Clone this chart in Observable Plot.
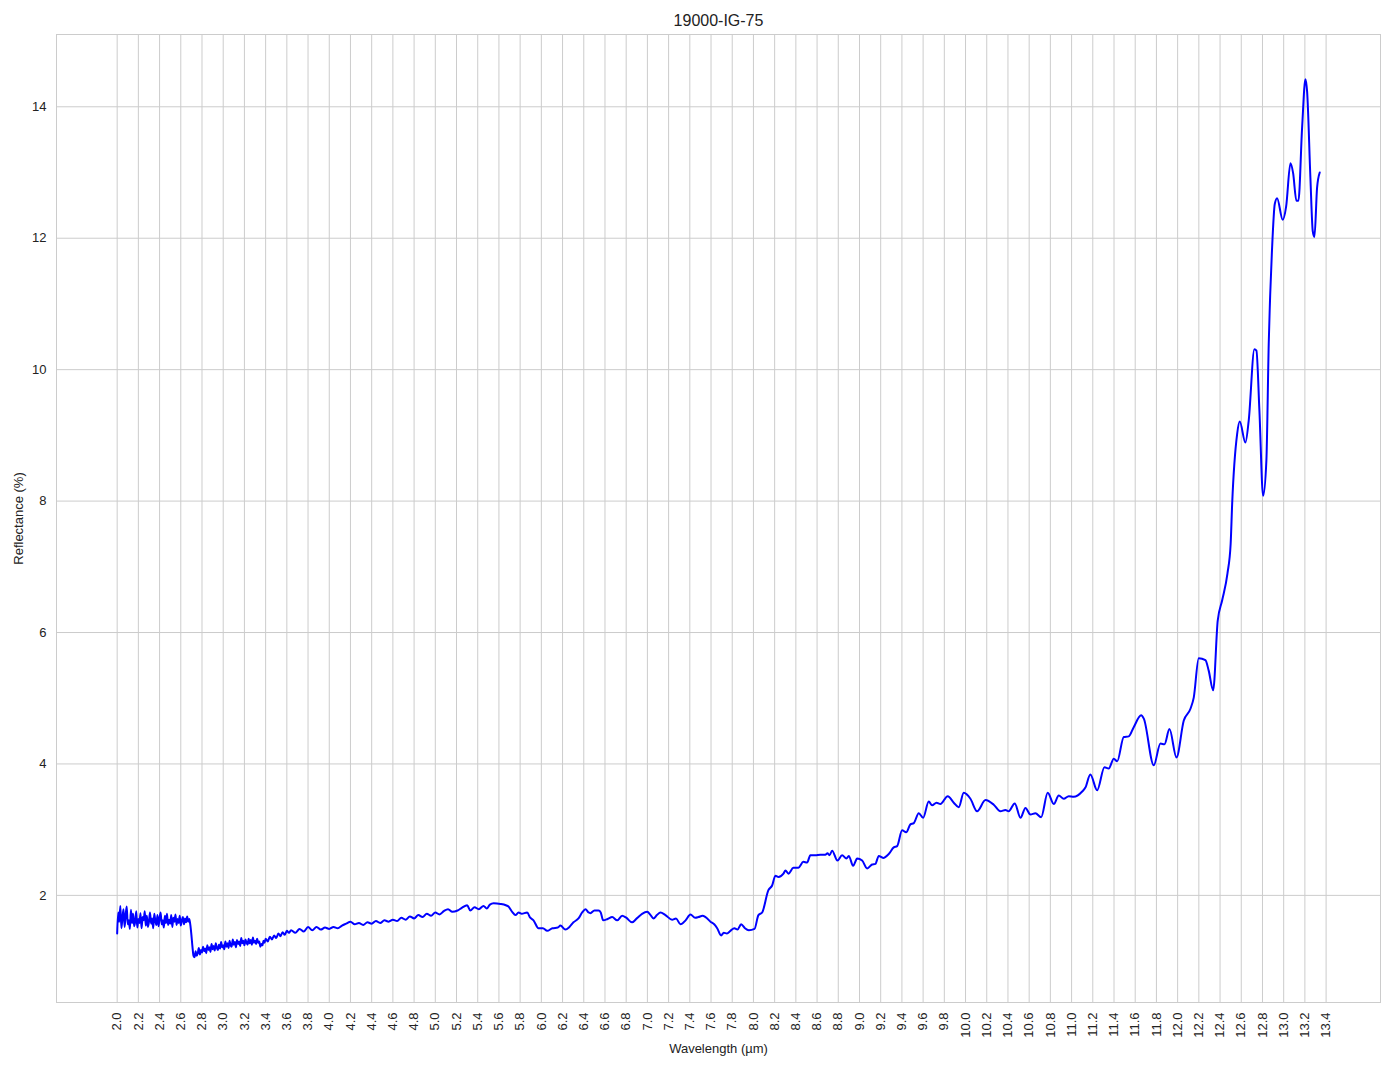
<!DOCTYPE html>
<html><head><meta charset="utf-8">
<script src="https://cdn.jsdelivr.net/npm/d3@7"></script>
<script src="https://cdn.jsdelivr.net/npm/@observablehq/plot@0.6"></script>
<style>html,body{margin:0;padding:0;background:#fff;overflow:hidden} svg{display:block}</style>
</head><body><div id="chart"></div>
<script>
const chartTitle = "19000-IG-75";
const xLabel = "Wavelength (µm)";
const yLabel = "Reflectance (%)";
const xTicks = [2.0,2.2,2.4,2.6,2.8,3.0,3.2,3.4,3.6,3.8,4.0,4.2,4.4,4.6,4.8,5.0,5.2,5.4,5.6,5.8,6.0,6.2,6.4,6.6,6.8,7.0,7.2,7.4,7.6,7.8,8.0,8.2,8.4,8.6,8.8,9.0,9.2,9.4,9.6,9.8,10.0,10.2,10.4,10.6,10.8,11.0,11.2,11.4,11.6,11.8,12.0,12.2,12.4,12.6,12.8,13.0,13.2,13.4];
const yTicks = [2,4,6,8,10,12,14];

// [wavelength µm, reflectance %]
const noisyStart = [
[2.00,1.42],[2.01,1.74],[2.02,1.60],[2.03,1.84],[2.04,1.50],[2.05,1.66],[2.06,1.79],[2.07,1.52],[2.08,1.70],[2.09,1.83],
[2.10,1.56],[2.11,1.62],[2.12,1.49],[2.13,1.78],[2.14,1.58],[2.15,1.72],[2.16,1.53],[2.17,1.60],[2.18,1.76],[2.19,1.51],
[2.20,1.64],[2.21,1.58],[2.22,1.73],[2.23,1.50],[2.24,1.67],[2.25,1.62],[2.26,1.76],[2.27,1.54],[2.28,1.69],[2.29,1.52],
[2.30,1.60],[2.31,1.74],[2.32,1.57],[2.33,1.65],[2.34,1.50],[2.35,1.72],[2.36,1.61],[2.37,1.55],[2.38,1.70],[2.39,1.53],
[2.40,1.66],[2.41,1.74],[2.42,1.56],[2.43,1.62],[2.44,1.51],[2.45,1.69],[2.46,1.58],[2.47,1.72],[2.48,1.55],[2.49,1.63],
[2.50,1.57],[2.51,1.70],[2.52,1.52],[2.53,1.66],[2.54,1.60],[2.55,1.71],[2.56,1.55],[2.57,1.64],[2.58,1.58],[2.59,1.69],
[2.60,1.54],[2.61,1.62],[2.62,1.67],[2.63,1.56],[2.64,1.65],[2.65,1.59],[2.66,1.68],[2.67,1.60],[2.68,1.64],[2.69,1.55],
[2.70,1.40],[2.71,1.22],[2.72,1.08],[2.73,1.06]
];
const noisyRise = [
[2.74,1.15],[2.75,1.08],[2.76,1.12],[2.77,1.20],[2.78,1.10],[2.79,1.17],[2.80,1.13],[2.81,1.22],[2.82,1.15],[2.83,1.19],
[2.84,1.12],[2.85,1.24],[2.86,1.17],[2.87,1.21],[2.88,1.14],[2.89,1.26],[2.90,1.18],[2.91,1.23],[2.92,1.16],[2.93,1.27],
[2.94,1.20],[2.95,1.17],[2.96,1.25],[2.97,1.19],[2.98,1.29],[2.99,1.21],[3.00,1.24],[3.01,1.18],[3.02,1.30],[3.03,1.22],
[3.04,1.27],[3.05,1.20],[3.06,1.31],[3.07,1.24],[3.08,1.22],[3.09,1.33],[3.10,1.25],[3.11,1.29],[3.12,1.21],[3.13,1.32],
[3.14,1.26],[3.15,1.30],[3.16,1.23],[3.17,1.35],[3.18,1.27],[3.19,1.31],[3.20,1.24],[3.21,1.33],[3.22,1.28],[3.23,1.25],
[3.24,1.34],[3.25,1.27],[3.26,1.32],[3.27,1.25],[3.28,1.36],[3.29,1.28],[3.30,1.31],[3.31,1.26],[3.32,1.34],[3.33,1.28],
[3.34,1.30],[3.35,1.22],[3.36,1.26],[3.37,1.24],[3.38,1.31],[3.39,1.28],[3.40,1.34],[3.42,1.30],[3.44,1.37],[3.46,1.33],
[3.48,1.39],[3.50,1.35],[3.52,1.42],[3.54,1.38],[3.56,1.44],[3.58,1.40],[3.60,1.46],[3.62,1.43],[3.64,1.47],[3.68,1.43],
[3.72,1.49],[3.76,1.45],[3.80,1.52],[3.84,1.47],[3.88,1.52],[3.92,1.48],[3.96,1.51],[4.00,1.49],[4.04,1.52],[4.08,1.50],
[4.12,1.54],[4.16,1.57],[4.20,1.60],[4.24,1.56],[4.28,1.58],[4.32,1.55],[4.36,1.59],[4.40,1.57],[4.44,1.61],[4.48,1.58],
[4.52,1.62],[4.56,1.60],[4.60,1.63],[4.64,1.61],[4.68,1.66],[4.72,1.63],[4.76,1.68],[4.80,1.65],[4.84,1.70],[4.88,1.67],
[4.92,1.72],[4.96,1.69],[5.00,1.74],[5.04,1.71],[5.08,1.76],[5.12,1.79],[5.16,1.75]
];
const midBand = [
[5.21,1.77],[5.25,1.81],[5.30,1.85],[5.33,1.77],[5.37,1.82],[5.41,1.79],[5.455,1.84],[5.485,1.80],[5.515,1.86],[5.55,1.88],
[5.615,1.87],[5.665,1.85],[5.69,1.83],[5.725,1.75],[5.756,1.70],[5.785,1.74],[5.815,1.72],[5.866,1.74],[5.895,1.66],[5.926,1.62],
[5.973,1.50],[6.015,1.50],[6.055,1.46],[6.105,1.50],[6.155,1.51],[6.18,1.54],[6.227,1.48],[6.265,1.52],[6.303,1.59],[6.35,1.65],
[6.385,1.74],[6.416,1.79],[6.445,1.74],[6.463,1.73],[6.50,1.77],[6.539,1.77],[6.56,1.74],[6.583,1.62],[6.625,1.64],[6.668,1.67],
[6.715,1.62],[6.762,1.69],[6.80,1.66],[6.856,1.59],[6.90,1.65],[6.95,1.72],[6.998,1.75],[7.03,1.70],[7.057,1.65],[7.09,1.70],
[7.123,1.74],[7.17,1.70],[7.233,1.63],[7.27,1.65],[7.312,1.56],[7.36,1.62],[7.406,1.71],[7.45,1.66],[7.482,1.67],[7.52,1.69],
[7.548,1.67],[7.595,1.60],[7.63,1.56],[7.658,1.50],[7.695,1.39],[7.72,1.43],[7.75,1.42],[7.783,1.46],[7.82,1.50],[7.85,1.48],
[7.884,1.56],[7.92,1.50],[7.956,1.47],[8.01,1.49],[8.047,1.70],[8.082,1.74],[8.141,2.08],[8.176,2.15],[8.207,2.30],[8.236,2.28],
[8.283,2.33]
];
const riseBand = [
[8.302,2.38],[8.33,2.33],[8.377,2.42],[8.424,2.42],[8.471,2.51],[8.506,2.50],[8.537,2.61],[8.584,2.61],[8.631,2.62],[8.678,2.62],
[8.698,2.64],[8.717,2.61],[8.742,2.68],[8.792,2.53],[8.836,2.61],[8.877,2.56],[8.899,2.60],[8.94,2.45],[8.978,2.56],[9.025,2.53],
[9.072,2.41],[9.119,2.47],[9.15,2.48],[9.182,2.60],[9.223,2.57],[9.276,2.63],[9.323,2.73],[9.355,2.75],[9.402,2.99],[9.44,2.96],
[9.48,3.08],[9.512,3.10],[9.559,3.25],[9.60,3.18],[9.653,3.43],[9.685,3.37],[9.726,3.41],[9.763,3.39],[9.832,3.51],[9.889,3.41],
[9.936,3.34],[9.983,3.56],[10.046,3.47],[10.109,3.28],[10.188,3.45],[10.266,3.38],[10.329,3.28],[10.376,3.30],[10.407,3.28],[10.464,3.40],
[10.518,3.18],[10.565,3.33],[10.612,3.23],[10.659,3.25],[10.713,3.19],[10.775,3.56],[10.832,3.39],[10.879,3.52],[10.926,3.47],[10.973,3.51],
[11.02,3.50],[11.10,3.58],[11.13,3.64],[11.177,3.84],[11.241,3.60],[11.31,3.95],[11.35,3.93],[11.398,4.08],[11.43,4.04],[11.492,4.41],
[11.539,4.42],[11.586,4.56],[11.656,4.74],[11.681,4.69],[11.775,3.98],[11.838,4.31],[11.876,4.30],[11.923,4.53],[11.989,4.10],[12.058,4.66],
[12.121,4.84],[12.152,5.01],[12.199,5.61],[12.262,5.58],[12.293,5.42],[12.335,5.12],[12.378,6.18],[12.42,6.49],[12.47,6.90],[12.50,7.35],
[12.514,7.95],[12.561,9.02],[12.586,9.21],[12.639,8.89],[12.67,9.22],[12.724,10.31],[12.743,10.29],[12.771,9.38],[12.806,8.08],[12.837,8.62],
[12.859,10.39],[12.891,11.86],[12.916,12.52],[12.938,12.61],[12.991,12.28],[13.023,12.48],[13.064,13.14],[13.089,12.99],[13.12,12.57],[13.139,12.57],
[13.174,13.69],[13.205,14.42],[13.221,14.23],[13.252,12.92],[13.274,12.11],[13.29,12.02],[13.315,12.77],[13.34,13.00]
];

const spectrum = [...noisyStart, ...noisyRise, ...midBand, ...riseBand].map(([x, y]) => ({x, y}));

const grid = "#cccccc";
const ink = "#222222";

const chart = Plot.plot({
  width: 1394,
  height: 1069,
  marginLeft: 56,
  marginRight: 14,
  marginTop: 34,
  marginBottom: 67,
  style: {fontFamily: "'Liberation Sans', Arial, sans-serif", fontSize: "13px", color: ink, background: "#ffffff"},
  x: {domain: [1.428, 13.913]},
  y: {domain: [0.37, 15.1]},
  marks: [
    Plot.gridX(xTicks, {stroke: grid, strokeOpacity: 1, strokeWidth: 1}),
    Plot.gridY(yTicks, {stroke: grid, strokeOpacity: 1, strokeWidth: 1}),
    Plot.frame({stroke: grid, strokeWidth: 1}),
    Plot.axisX(xTicks, {tickSize: 0, tickPadding: 10, tickRotate: -90, tickFormat: d3.format(".1f"), label: null, fill: ink}),
    Plot.axisY(yTicks, {tickSize: 0, tickPadding: 10, tickFormat: d3.format("d"), label: null, fill: ink}),
    Plot.line(spectrum, {x: "x", y: "y", stroke: "#0000ff", strokeWidth: 2, curve: "monotone-x"}),
    Plot.text([chartTitle], {frameAnchor: "top", dy: -14, lineAnchor: "middle", fontSize: 16, fill: ink}),
    Plot.text([xLabel], {frameAnchor: "bottom", dy: 46, lineAnchor: "middle", fontSize: 13, fill: ink}),
    Plot.text([yLabel], {frameAnchor: "left", dx: -38, rotate: -90, textAnchor: "middle", lineAnchor: "middle", fontSize: 13, fill: ink})
  ]
});
document.getElementById("chart").appendChild(chart);
</script>
</body></html>
